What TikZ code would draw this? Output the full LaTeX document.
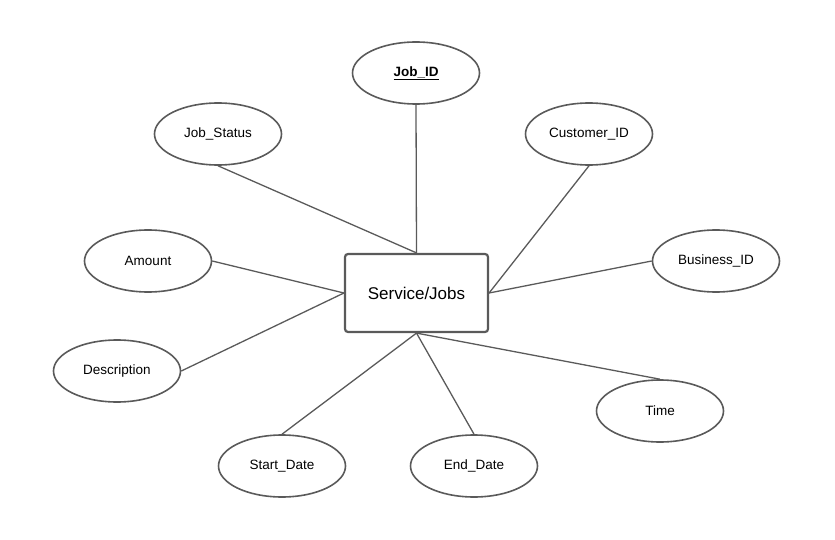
\documentclass[tikz,border=0pt]{standalone}
\usepackage{fontspec}
\setmainfont{Liberation Sans}
\usetikzlibrary{shapes.geometric}
\definecolor{edgegray}{HTML}{5A5A5A}
\tikzset{
	attr/.style={draw=edgegray, ellipse, line width=1.6pt, minimum width=127pt, minimum height=62pt, inner sep=0pt, font=\fontsize{13.5}{16}\selectfont},
	entity/.style={draw=edgegray, rectangle, rounded corners=3pt, line width=2.2pt, minimum width=143pt, minimum height=78pt, font=\fontsize{17}{20}\selectfont},
	link/.style={draw=edgegray, line width=1.3pt}
}

\begin{document}
\begin{tikzpicture}[x=1pt, y=-1pt]
		%%%%% START %%%%%
		\useasboundingbox (0, 0) rectangle (835, 540);
		
		\node[entity] (svc) at (416.5, 293) {Service/Jobs};
		
		\node[attr] (jobid) at (416, 73) {\underline{\textbf{Job\_ID}}};
		\node[attr] (jobstatus) at (218, 134) {Job\_Status};
		\node[attr] (custid) at (589, 134) {Customer\_ID};
		\node[attr] (amount) at (148, 261) {Amount};
		\node[attr] (busid) at (716, 261) {Business\_ID};
		\node[attr] (descr) at (117, 371) {Description};
		\node[attr] (time) at (660, 411) {Time};
		\node[attr] (startdate) at (282, 466) {Start\_Date};
		\node[attr] (enddate) at (474, 466) {End\_Date};
		
		\draw[link] (jobid.south) -- (svc.north);
		\draw[link] (jobstatus.south) -- (svc.north);
		\draw[link] (custid.south) -- (svc.east);
		\draw[link] (busid.west) -- (svc.east);
		\draw[link] (amount.east) -- (svc.west);
		\draw[link] (descr.east) -- (svc.west);
		\draw[link] (startdate.north) -- (svc.south);
		\draw[link] (enddate.north) -- (svc.south);
		\draw[link] (time.north) -- (svc.south);
		
		%%%%% END %%%%%
	\end{tikzpicture}
\end{document}
